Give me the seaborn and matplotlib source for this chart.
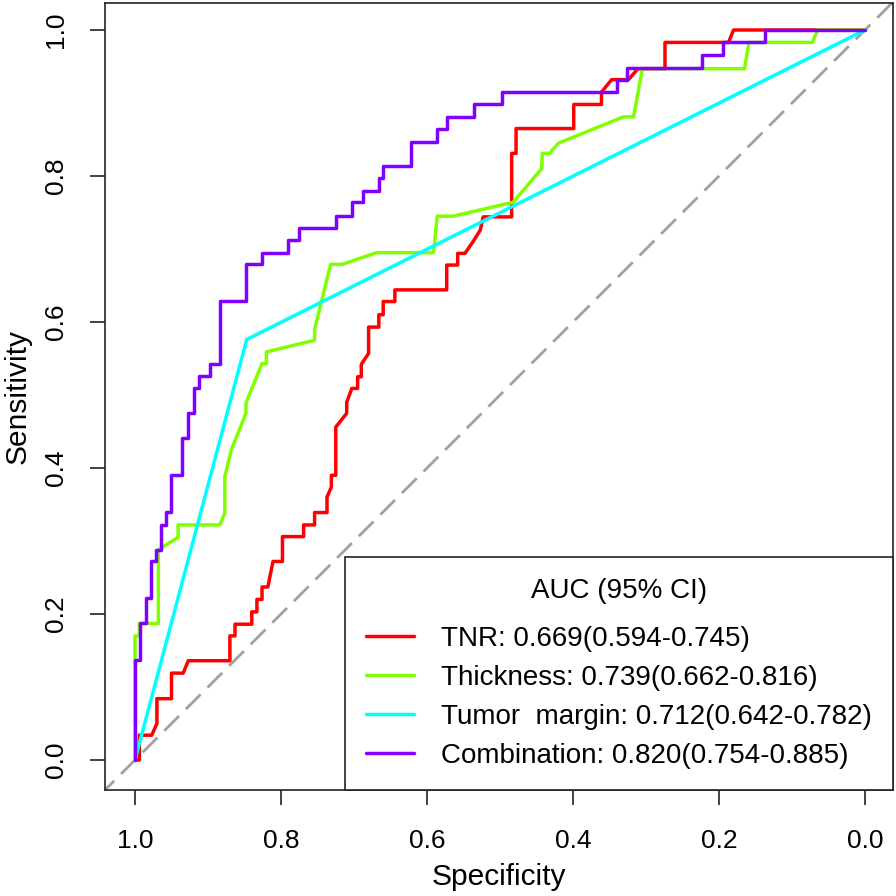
import matplotlib
matplotlib.use("Agg")
import matplotlib.pyplot as plt
import seaborn as sns
import pandas as pd

sns.set_style("ticks")
plt.rcParams['font.family'] = ['Liberation Sans', 'DejaVu Sans']
plt.rcParams['text.color'] = 'black'
plt.rcParams['axes.labelcolor'] = 'black'
plt.rcParams['xtick.color'] = 'black'
plt.rcParams['ytick.color'] = 'black'

# ---------------- data (ROC path vertices: specificity, sensitivity) ----------------
labels = [
    "TNR: 0.669(0.594-0.745)",
    "Thickness: 0.739(0.662-0.816)",
    "Tumor  margin: 0.712(0.642-0.782)",
    "Combination: 0.820(0.754-0.885)",
]
colors = ["#FF0000", "#80FF00", "#00FFFF", "#8000FF"]

tnr_spec = [1.0, 0.994, 0.994, 0.977, 0.970, 0.970, 0.950, 0.950, 0.934, 0.927, 0.870, 0.870,
            0.863, 0.863, 0.840, 0.840, 0.833, 0.833, 0.826, 0.826, 0.818, 0.811, 0.798, 0.798,
            0.769, 0.769, 0.754, 0.754, 0.737, 0.737, 0.731, 0.731, 0.725, 0.725, 0.710, 0.710,
            0.703, 0.695, 0.695, 0.690, 0.690, 0.680, 0.680, 0.666, 0.666, 0.660, 0.660, 0.644,
            0.644, 0.573, 0.573, 0.558, 0.558, 0.548, 0.537, 0.527, 0.523, 0.484, 0.484, 0.478,
            0.478, 0.399, 0.399, 0.361, 0.361, 0.347, 0.324, 0.311, 0.274, 0.274, 0.187, 0.180, 0.0]
tnr_sens = [0.0, 0.0, 0.034, 0.034, 0.050, 0.084, 0.084, 0.119, 0.119, 0.136, 0.136, 0.170,
            0.170, 0.186, 0.186, 0.203, 0.203, 0.220, 0.220, 0.237, 0.237, 0.272, 0.272, 0.306,
            0.306, 0.322, 0.322, 0.339, 0.339, 0.360, 0.374, 0.390, 0.390, 0.456, 0.475, 0.490,
            0.509, 0.509, 0.525, 0.525, 0.542, 0.557, 0.593, 0.593, 0.610, 0.610, 0.628, 0.628,
            0.644, 0.644, 0.678, 0.678, 0.694, 0.694, 0.710, 0.726, 0.744, 0.744, 0.831, 0.831,
            0.865, 0.865, 0.898, 0.898, 0.915, 0.932, 0.932, 0.947, 0.947, 0.983, 0.983, 1.0, 1.0]

thk_spec = [1.0, 1.0, 0.994, 0.994, 0.968, 0.968, 0.941, 0.941, 0.884, 0.877, 0.877, 0.868,
            0.848, 0.848, 0.826, 0.820, 0.820, 0.754, 0.754, 0.732, 0.716, 0.669, 0.591, 0.586,
            0.564, 0.482, 0.443, 0.442, 0.432, 0.420, 0.331, 0.317, 0.305, 0.165, 0.159, 0.072,
            0.065, 0.0]
thk_sens = [0.0, 0.170, 0.170, 0.187, 0.187, 0.288, 0.305, 0.322, 0.322, 0.338, 0.388, 0.425,
            0.475, 0.489, 0.543, 0.543, 0.559, 0.575, 0.590, 0.679, 0.679, 0.695, 0.695, 0.745,
            0.745, 0.764, 0.810, 0.831, 0.831, 0.845, 0.881, 0.881, 0.947, 0.947, 0.983, 0.983,
            1.0, 1.0]

mar_spec = [1.0, 0.847, 0.0]
mar_sens = [0.0, 0.576, 1.0]

com_spec = [1.0, 1.0, 0.993, 0.993, 0.985, 0.985, 0.978, 0.978, 0.971, 0.971, 0.964, 0.964,
            0.957, 0.957, 0.950, 0.950, 0.935, 0.935, 0.927, 0.927, 0.919, 0.919, 0.912, 0.912,
            0.897, 0.897, 0.884, 0.884, 0.848, 0.848, 0.826, 0.826, 0.790, 0.790, 0.775, 0.775,
            0.724, 0.724, 0.703, 0.703, 0.687, 0.687, 0.666, 0.666, 0.660, 0.660, 0.622, 0.622,
            0.586, 0.586, 0.572, 0.572, 0.535, 0.535, 0.497, 0.497, 0.340, 0.340, 0.326, 0.326,
            0.223, 0.223, 0.194, 0.194, 0.137, 0.137, 0.0]
com_sens = [0.0, 0.137, 0.137, 0.188, 0.188, 0.222, 0.222, 0.272, 0.272, 0.288, 0.288, 0.322,
            0.322, 0.340, 0.340, 0.390, 0.390, 0.441, 0.441, 0.475, 0.475, 0.509, 0.509, 0.526,
            0.526, 0.543, 0.543, 0.629, 0.629, 0.679, 0.679, 0.695, 0.695, 0.712, 0.712, 0.729,
            0.729, 0.745, 0.745, 0.764, 0.764, 0.780, 0.780, 0.797, 0.797, 0.814, 0.814, 0.847,
            0.847, 0.864, 0.864, 0.881, 0.881, 0.898, 0.898, 0.915, 0.915, 0.932, 0.932, 0.948,
            0.948, 0.966, 0.966, 0.983, 0.983, 1.0, 1.0]

tick_vals = [1.0, 0.8, 0.6, 0.4, 0.2, 0.0]
tick_text = ["1.0", "0.8", "0.6", "0.4", "0.2", "0.0"]

# ---------------- build long table ----------------
frames = []
for lab, sp, se in zip(labels, [tnr_spec, thk_spec, mar_spec, com_spec],
                       [tnr_sens, thk_sens, mar_sens, com_sens]):
    frames.append(pd.DataFrame({"Specificity": sp, "Sensitivity": se, "Model": lab}))
df = pd.concat(frames, ignore_index=True)

# ---------------- figure ----------------
W = H = 896
fig = plt.figure(figsize=(W / 100, H / 100), dpi=100)
ax = fig.add_axes([105 / W, 1 - 790 / H, (893 - 105) / W, (790 - 3) / H])

ax.axline((1, 0), (0, 1), color="#A0A0A0", lw=2.0, ls=(0, (7.5, 3.5)), zorder=1)

sns.lineplot(data=df, x="Specificity", y="Sensitivity", hue="Model", hue_order=labels,
             palette=dict(zip(labels, colors)), sort=False, estimator=None, units="Model",
             lw=2.5, ax=ax, legend=True, zorder=3)

ax.set_xlim(1 + 30 / 730, -28 / 730)
ax.set_ylim(-30 / 730, 1 + 27 / 730)
ax.set_xticks(tick_vals)
ax.set_xticklabels(tick_text)
ax.set_yticks(tick_vals)
ax.set_yticklabels(tick_text, rotation=90, va="center")

ax.tick_params(axis="both", length=11, width=1.2, labelsize=19, color="#222222")
ax.tick_params(axis="x", pad=17)
ax.tick_params(axis="y", pad=16)
for sp in ax.spines.values():
    sp.set_visible(True)
    sp.set_linewidth(1.2)
    sp.set_color("#222222")

ax.set_xlabel("Specificity", fontsize=21.5)
ax.set_ylabel("Sensitivity", fontsize=21.5)
ax.xaxis.set_label_coords(0.5, -0.0925)
ax.yaxis.set_label_coords(-0.093, 0.5)

handles, labs = ax.get_legend_handles_labels()
leg = ax.legend(handles, labs, title="AUC (95% CI)", loc="lower right",
                bbox_to_anchor=(1, 0), borderaxespad=0, frameon=True, fancybox=False,
                edgecolor="#222222", framealpha=1, fontsize=20, title_fontsize=20,
                handlelength=1.73, handletextpad=0.97, borderpad=0.75, labelspacing=0.475)
leg.get_frame().set_linewidth(1.2)
leg._legend_box.sep = 15.5
for h in leg.get_lines():
    h.set_linewidth(2.5)

fig.savefig("out.png", dpi=100)
